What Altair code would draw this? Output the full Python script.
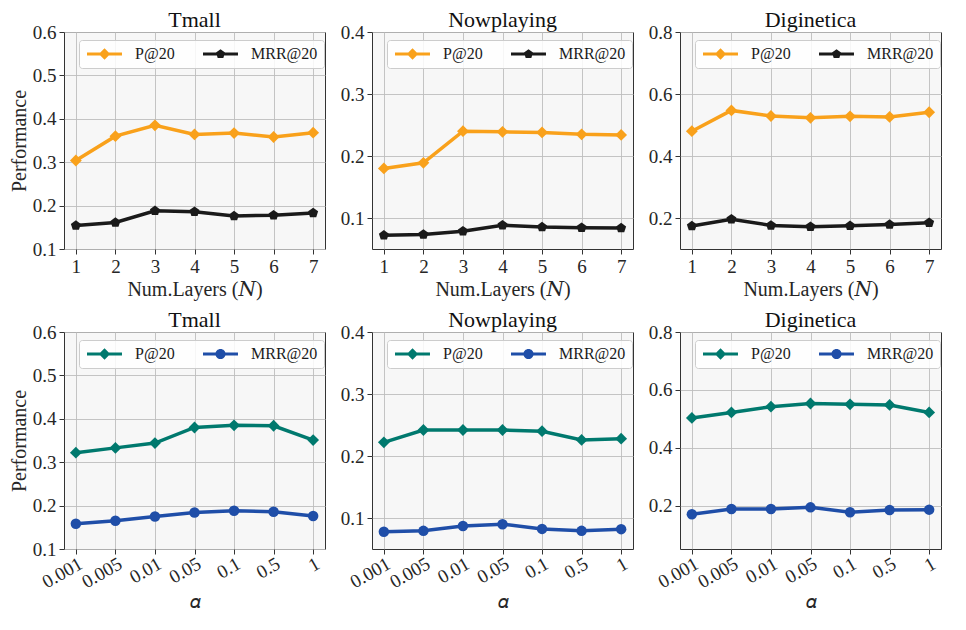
import altair as alt
import pandas as pd

# ---------------- data ----------------
num_layers = [1, 2, 3, 4, 5, 6, 7]
alphas = ["0.001", "0.005", "0.01", "0.05", "0.1", "0.5", "1"]
series = ["P@20", "MRR@20"]

tmall_layers_p = [0.304, 0.360, 0.385, 0.364, 0.367, 0.358, 0.368]
tmall_layers_m = [0.154, 0.161, 0.188, 0.186, 0.176, 0.178, 0.183]
now_layers_p = [0.180, 0.189, 0.240, 0.239, 0.238, 0.235, 0.234]
now_layers_m = [0.072, 0.0735, 0.0787, 0.0884, 0.0853, 0.0843, 0.0838]
digi_layers_p = [0.480, 0.547, 0.529, 0.523, 0.528, 0.526, 0.541]
digi_layers_m = [0.174, 0.196, 0.176, 0.172, 0.175, 0.179, 0.185]

tmall_alpha_p = [0.322, 0.333, 0.344, 0.380, 0.385, 0.384, 0.351]
tmall_alpha_m = [0.158, 0.165, 0.175, 0.184, 0.188, 0.186, 0.176]
now_alpha_p = [0.222, 0.242, 0.242, 0.242, 0.240, 0.226, 0.228]
now_alpha_m = [0.0778, 0.0793, 0.087, 0.090, 0.0824, 0.0793, 0.082]
digi_alpha_p = [0.503, 0.522, 0.542, 0.553, 0.550, 0.548, 0.522]
digi_alpha_m = [0.170, 0.188, 0.188, 0.194, 0.177, 0.185, 0.186]

top_colors = ["#F9A11B", "#1A1A1A"]
bottom_colors = ["#00796E", "#1F4EA8"]

FONT = "Liberation Serif, Tinos, Times New Roman, DejaVu Serif, serif"
W, H = 261, 217

PENTAGON = "M0,-1L0.951,-0.309L0.588,0.809L-0.588,0.809L-0.951,-0.309Z"
LINE = "M-1,-0.25L4.83,-0.25L4.83,0.25L-1,0.25Z"
LEG_DIAMOND = LINE + "M1.92,-0.95L2.87,0L1.92,0.95L0.97,0L1.92,-0.95Z"
LEG_PENT = LINE + "M1.92,-0.8L2.68,-0.25L2.39,0.65L1.45,0.65L1.16,-0.25Z"
LEG_CIRCLE = LINE + "M1.07,0A0.85,0.85 0 1,1 2.77,0A0.85,0.85 0 1,1 1.07,0Z"


def panel(xvals, p, m, title, ydom, yticks, kind, colors, markers, msizes,
          legpaths, ytitle):
    df = pd.DataFrame({
        "x": list(xvals) * 2,
        "y": list(p) + list(m),
        "series": [series[0]] * len(p) + [series[1]] * len(m),
    })
    if kind == "layers":
        x = alt.X("x:Q", scale=alt.Scale(domain=[0.7, 7.3], nice=False, zero=False),
                  axis=alt.Axis(values=num_layers, format="d", title="Num.Layers (𝑁)"))
    else:
        x = alt.X("x:N", sort=alphas, scale=alt.Scale(type="point", padding=0.3),
                  axis=alt.Axis(labelAngle=-30, labelAlign="right", labelBaseline="top",
                                labelPadding=0, title="𝛼", titleFont="DejaVu Sans",
                                titleFontSize=19, titlePadding=1))
    if ytitle:
        yaxis = alt.Axis(values=yticks, format=".1f", title="Performance")
    else:
        yaxis = alt.Axis(values=yticks, format=".1f", title=None)
    y = alt.Y("y:Q", scale=alt.Scale(domain=ydom, nice=False, zero=False), axis=yaxis)
    cscale = alt.Scale(domain=series, range=colors)
    base = alt.Chart(df)
    leg = alt.Legend(title=None, orient="none", legendX=15, legendY=8, direction="horizontal",
                     columns=2, symbolSize=144, symbolStrokeWidth=0, labelOffset=34,
                     columnPadding=26, padding=6, fillColor="rgba(255,255,255,0.85)",
                     strokeColor="#cccccc", cornerRadius=3, labelFont=FONT, labelFontSize=16,
                     labelColor="#1a1a1a", symbolOpacity=1)
    legend_layer = base.mark_point(filled=True, opacity=1).encode(
        color=alt.Color("series:N", scale=cscale, legend=leg),
        shape=alt.Shape("series:N", scale=alt.Scale(domain=series, range=legpaths), legend=leg),
    ).transform_filter("false")
    line = base.mark_line(strokeWidth=3.5).encode(
        x=x, y=y, color=alt.Color("series:N", scale=cscale, legend=None))
    pts = []
    for i in range(2):
        pts.append(base.mark_point(filled=True, opacity=1, shape=markers[i], size=msizes[i],
                                   color=colors[i], strokeWidth=0)
                   .encode(x=x, y=y).transform_filter(alt.datum.series == series[i]))
    return alt.layer(legend_layer, line, *pts).properties(
        width=W, height=H, title=alt.TitleParams(title, frame="group"))


top_m = ["diamond", PENTAGON]
top_s = [140, 110]
top_l = [LEG_DIAMOND, LEG_PENT]
bot_m = ["diamond", "circle"]
bot_s = [140, 110]
bot_l = [LEG_DIAMOND, LEG_CIRCLE]

p1 = panel(num_layers, tmall_layers_p, tmall_layers_m, "Tmall", [0.1, 0.6],
           [0.1, 0.2, 0.3, 0.4, 0.5, 0.6], "layers", top_colors, top_m, top_s, top_l, True)
p2 = panel(num_layers, now_layers_p, now_layers_m, "Nowplaying", [0.05, 0.4],
           [0.1, 0.2, 0.3, 0.4], "layers", top_colors, top_m, top_s, top_l, False)
p3 = panel(num_layers, digi_layers_p, digi_layers_m, "Diginetica", [0.1, 0.8],
           [0.2, 0.4, 0.6, 0.8], "layers", top_colors, top_m, top_s, top_l, False)
p4 = panel(alphas, tmall_alpha_p, tmall_alpha_m, "Tmall", [0.1, 0.6],
           [0.1, 0.2, 0.3, 0.4, 0.5, 0.6], "alpha", bottom_colors, bot_m, bot_s, bot_l, True)
p5 = panel(alphas, now_alpha_p, now_alpha_m, "Nowplaying", [0.05, 0.4],
           [0.1, 0.2, 0.3, 0.4], "alpha", bottom_colors, bot_m, bot_s, bot_l, False)
p6 = panel(alphas, digi_alpha_p, digi_alpha_m, "Diginetica", [0.05, 0.8],
           [0.2, 0.4, 0.6, 0.8], "alpha", bottom_colors, bot_m, bot_s, bot_l, False)

chart = alt.concat(
    p1, p2, p3, p4, p5, p6, columns=3, align="none",
    spacing={"row": 8, "column": 13},
).resolve_scale(
    color="independent", shape="independent", x="independent", y="independent"
).resolve_legend(color="independent", shape="independent").properties(
    padding={"left": 0, "top": 0, "right": 0, "bottom": 0}
).configure_view(
    fill="#F7F7F7", stroke="#333333", strokeWidth=1
).configure_axis(
    grid=True, gridColor="#BDBDBD", gridWidth=0.9, domain=False,
    tickColor="#333333", tickSize=5, tickWidth=1,
    labelFont=FONT, labelFontSize=19, labelColor="#262626", labelPadding=3,
    titleFont=FONT, titleFontSize=20, titleFontWeight="normal", titleColor="#262626",
    titlePadding=3,
).configure_title(
    font=FONT, fontSize=22, fontWeight="normal", color="#111111", offset=-9
)

chart.save("out.html", embed_options={"renderer": "svg", "actions": False})
